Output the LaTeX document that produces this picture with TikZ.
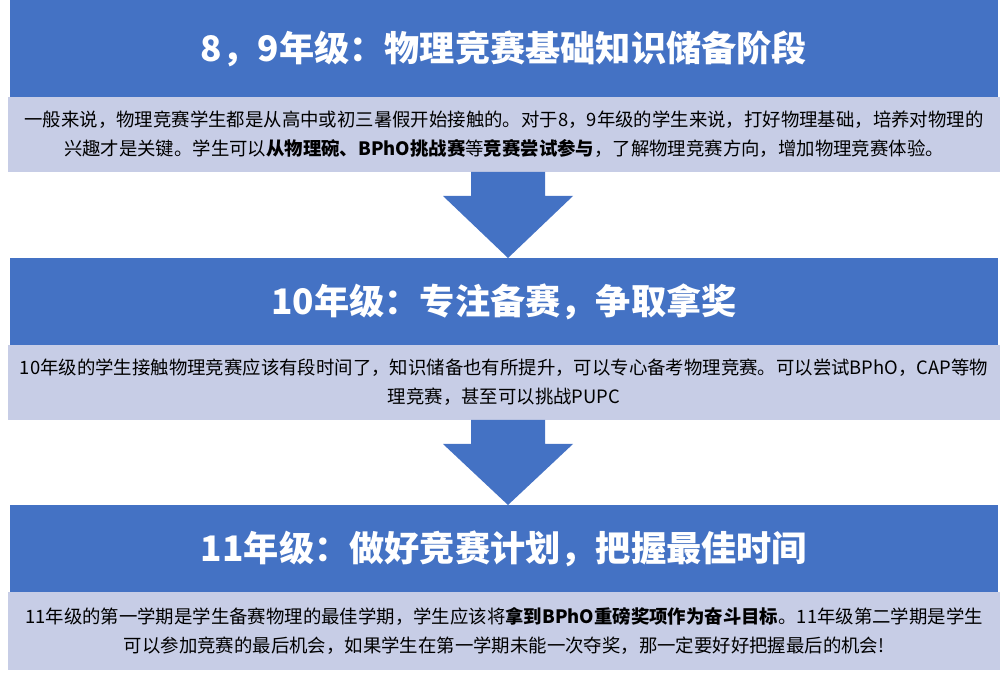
\documentclass[tikz,border=0pt]{standalone}
\usepackage{fontspec}
\setmainfont{Noto Sans CJK SC}
\begin{document}
\begin{tikzpicture}[x=0.75pt,y=-0.75pt,
  head/.style={fill=headblue,draw=none},
  lite/.style={fill=liteblue,draw=none},
  htext/.style={text=white,font=\fontsize{26.4}{30}\selectfont\bfseries},
  btext/.style={text=black,font=\fontsize{13.8}{21.5}\selectfont,align=center},
  arr/.style={fill=headblue,draw=none}]
\definecolor{headblue}{HTML}{4472C4}
\definecolor{liteblue}{HTML}{C7CDE6}
\useasboundingbox (0,0) rectangle (1008,677);
% boxes
\fill[head] (10,0) rectangle (998,97) node[midway,htext] (h1) {8，9年级：物理竞赛基础知识储备阶段};
\fill[lite] (8,97) rectangle (1000,172) node[midway,btext] (b1) {一般来说，物理竞赛学生都是从高中或初三暑假开始接触的。对于8，9年级的学生来说，打好物理基础，培养对物理的\\兴趣才是关键。学生可以\textbf{从物理碗、BPhO挑战赛}等\textbf{竞赛尝试参与}，了解物理竞赛方向，增加物理竞赛体验。};
\fill[head] (10,258) rectangle (998,345) node[midway,htext] (h2) {10年级：专注备赛，争取拿奖};
\fill[lite] (8,345) rectangle (1000,420) node[midway,btext] (b2) {10年级的学生接触物理竞赛应该有段时间了，知识储备也有所提升，可以专心备考物理竞赛。可以尝试BPhO，CAP等物\\理竞赛，甚至可以挑战PUPC};
\fill[head] (10,505) rectangle (998,592) node[midway,htext] (h3) {11年级：做好竞赛计划，把握最佳时间};
\fill[lite] (8,592) rectangle (1000,670) node[midway,btext] (b3) {11年级的第一学期是学生备赛物理的最佳学期，学生应该将\textbf{拿到BPhO重磅奖项作为奋斗目标}。11年级第二学期是学生\\可以参加竞赛的最后机会，如果学生在第一学期未能一次夺奖，那一定要好好把握最后的机会!};
% arrows
\fill[arr] (471,172) -- (545,172) -- (545,196) -- (573,196) -- (508,258) -- (443,196) -- (471,196) -- cycle;
\fill[arr] (471,420) -- (545,420) -- (545,444) -- (573,444) -- (508,505) -- (443,444) -- (471,444) -- cycle;
\end{tikzpicture}
\end{document}
